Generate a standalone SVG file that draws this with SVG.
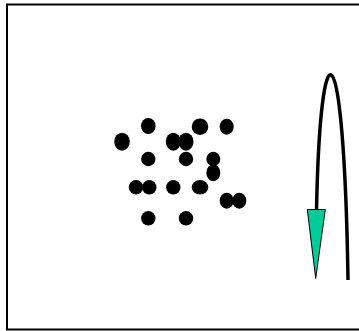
<svg xmlns="http://www.w3.org/2000/svg" width="359" height="331" viewBox="0 0 359 331">
<style>
.frame{fill:#fff;stroke:#000;stroke-width:2}
.dot{fill:#000}
.conn{fill:none;stroke:#000;stroke-width:3.5}
.head{fill:#00CC99;stroke:#000;stroke-width:1}
</style>
<rect width="359" height="331" fill="#fff"/>
<rect class="frame" x="7" y="4.5" width="360" height="325"/>
<g id="dots">
<g id="n1"><ellipse class="dot" cx="148.3" cy="126" rx="7.3" ry="8"/></g>
<g id="n2"><ellipse class="dot" cx="200" cy="126.7" rx="8.3" ry="8.3"/></g>
<g id="n3"><ellipse class="dot" cx="226.7" cy="126.7" rx="7" ry="8"/></g>
<g id="n4"><ellipse class="dot" cx="122" cy="141.7" rx="7.8" ry="9"/></g>
<g id="n5"><ellipse class="dot" cx="173.3" cy="141.7" rx="7.5" ry="9"/></g>
<g id="n6"><ellipse class="dot" cx="186" cy="141.7" rx="7.5" ry="9"/></g>
<g id="n7"><ellipse class="dot" cx="148.3" cy="159" rx="7.2" ry="7.2"/></g>
<g id="n8"><ellipse class="dot" cx="186" cy="159" rx="7.2" ry="7.2"/></g>
<g id="n9"><ellipse class="dot" cx="213.3" cy="159" rx="7" ry="7.2"/></g>
<g id="n10"><ellipse class="dot" cx="213.3" cy="172.7" rx="7" ry="8.5"/></g>
<g id="n11"><ellipse class="dot" cx="136" cy="187.3" rx="7.2" ry="7.2"/></g>
<g id="n12"><ellipse class="dot" cx="149.3" cy="187.3" rx="7.2" ry="7.2"/></g>
<g id="n13"><ellipse class="dot" cx="173.3" cy="187.3" rx="7.2" ry="7.2"/></g>
<g id="n14"><ellipse class="dot" cx="200" cy="187.3" rx="8.3" ry="7.2"/></g>
<g id="n15"><ellipse class="dot" cx="226.7" cy="200.7" rx="7" ry="8"/></g>
<g id="n16"><ellipse class="dot" cx="239.3" cy="200.7" rx="7" ry="8"/></g>
<g id="n17"><ellipse class="dot" cx="148.3" cy="218.3" rx="7.2" ry="7.2"/></g>
<g id="n18"><ellipse class="dot" cx="186" cy="218.3" rx="7.2" ry="7.2"/></g>
</g>
<g id="connectors">
<path class="conn" d="M348,280 C344,19 320,19 316.5,212"/>
<polygon class="head" points="307.3,209.5 325.3,209.5 315.7,278.5"/>
</g>
</svg>
